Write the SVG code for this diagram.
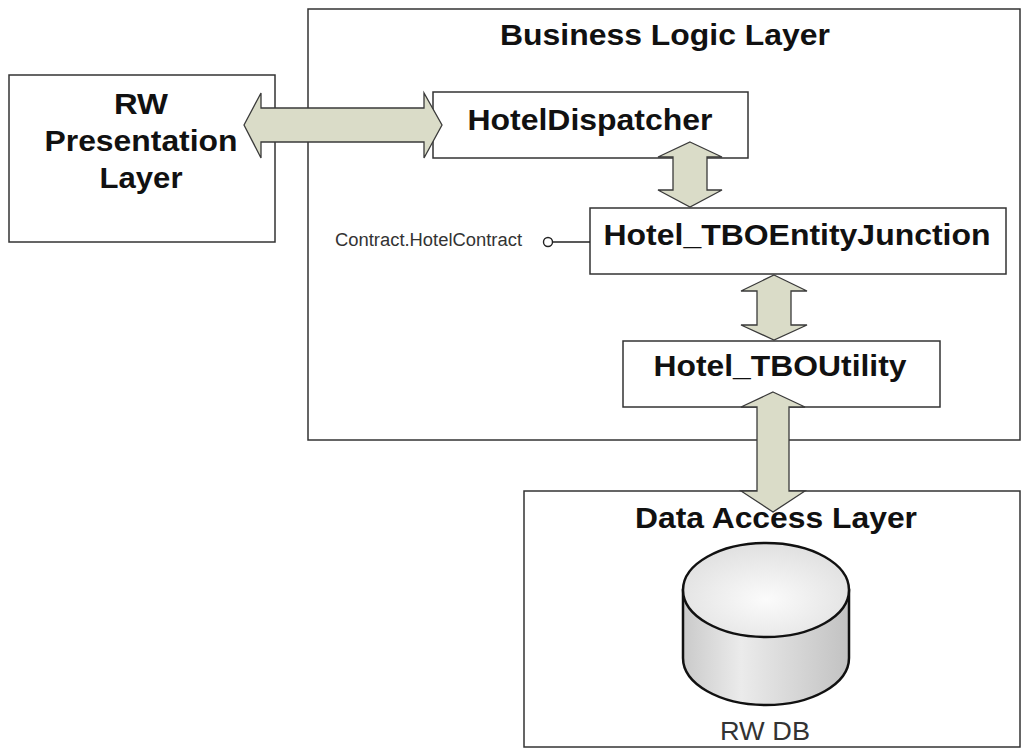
<svg xmlns="http://www.w3.org/2000/svg" width="1023" height="756" viewBox="0 0 1023 756">
<defs>
<style>
.box{fill:#ffffff;stroke:#333333;stroke-width:1.5}
.ttl{font-family:"Liberation Sans",Arial,sans-serif;font-weight:bold;font-size:29px;fill:#111111}
.small{font-family:"Liberation Sans",Arial,sans-serif;font-size:18px;fill:#333333}
.dblabel{font-family:"Liberation Sans",Arial,sans-serif;font-size:25px;fill:#333333}
.arrow{fill:#dadcc8;stroke:#3a3a3a;stroke-width:1.3;stroke-linejoin:miter}
.link{stroke:#222222;stroke-width:1.5;fill:none}
</style>
<radialGradient id="topG" cx="0.5" cy="0.6" r="0.6">
<stop offset="0" stop-color="#fbfbfb"/>
<stop offset="1" stop-color="#e0e0e0"/>
</radialGradient>
<linearGradient id="sideG" x1="0" y1="0" x2="1" y2="0">
<stop offset="0" stop-color="#cacaca"/>
<stop offset="0.35" stop-color="#ebebeb"/>
<stop offset="1" stop-color="#c2c2c2"/>
</linearGradient>
</defs>
<rect x="0" y="0" width="1023" height="756" fill="#ffffff"/>

<g id="presentation-layer">
<rect class="box" x="9" y="75" width="266" height="167"/>
<text class="ttl" x="141" y="114" text-anchor="middle" textLength="54" lengthAdjust="spacingAndGlyphs">RW</text>
<text class="ttl" x="141" y="151" text-anchor="middle" textLength="193" lengthAdjust="spacingAndGlyphs">Presentation</text>
<text class="ttl" x="141" y="188" text-anchor="middle" textLength="83" lengthAdjust="spacingAndGlyphs">Layer</text>
</g>

<g id="business-logic-layer">
<rect class="box" x="308" y="9" width="712" height="431"/>
<text class="ttl" x="665" y="45" text-anchor="middle" textLength="330" lengthAdjust="spacingAndGlyphs">Business Logic Layer</text>
</g>

<g id="data-access-layer">
<rect class="box" x="524" y="491" width="496" height="256"/>
<text class="ttl" x="776" y="528" text-anchor="middle" textLength="282" lengthAdjust="spacingAndGlyphs">Data Access Layer</text>
</g>

<g id="rw-db">
<path d="M683,590 L683,658 A83,47 0 0 0 849,658 L849,590 Z" fill="url(#sideG)" stroke="#111111" stroke-width="2.5"/>
<ellipse cx="766" cy="590" rx="83" ry="47" fill="url(#topG)" stroke="#111111" stroke-width="2.5"/>
<text class="dblabel" x="765" y="740" text-anchor="middle" textLength="90" lengthAdjust="spacingAndGlyphs">RW DB</text>
</g>

<g id="hotel-dispatcher">
<rect class="box" x="433" y="92" width="315" height="66"/>
<text class="ttl" x="590" y="130" text-anchor="middle" textLength="245" lengthAdjust="spacingAndGlyphs">HotelDispatcher</text>
</g>

<g id="hotel-tbo-entity-junction">
<rect class="box" x="590" y="208" width="416" height="66"/>
<text class="ttl" x="797" y="245" text-anchor="middle" textLength="387" lengthAdjust="spacingAndGlyphs">Hotel_TBOEntityJunction</text>
</g>

<g id="hotel-tbo-utility">
<rect class="box" x="623" y="341" width="317" height="66"/>
<text class="ttl" x="780" y="376" text-anchor="middle" textLength="253" lengthAdjust="spacingAndGlyphs">Hotel_TBOUtility</text>
</g>

<g id="contract-interface">
<text class="small" x="335" y="246" textLength="187" lengthAdjust="spacingAndGlyphs">Contract.HotelContract</text>
<circle cx="548" cy="242" r="4.5" fill="#ffffff" stroke="#222222" stroke-width="1.4"/>
</g>

<g id="connectors">
<line class="link" x1="552.5" y1="242" x2="590" y2="242"/>
<polygon class="arrow" points="244,125 261,93 261,108 424,108 424,93 442,125 424,158 424,142 261,142 261,158"/>
<polygon class="arrow" points="690,142 722,157 707,157 707,190 722,190 690,207 658,190 673,190 673,157 658,157"/>
<polygon class="arrow" points="774,275 807,291 791,291 791,325 807,325 774,340 741,325 757,325 757,291 741,291"/>
<polygon class="arrow" points="773,392 805,407 789,407 789,491 805,491 773,512 741,491 757,491 757,407 741,407"/>
</g>
</svg>
